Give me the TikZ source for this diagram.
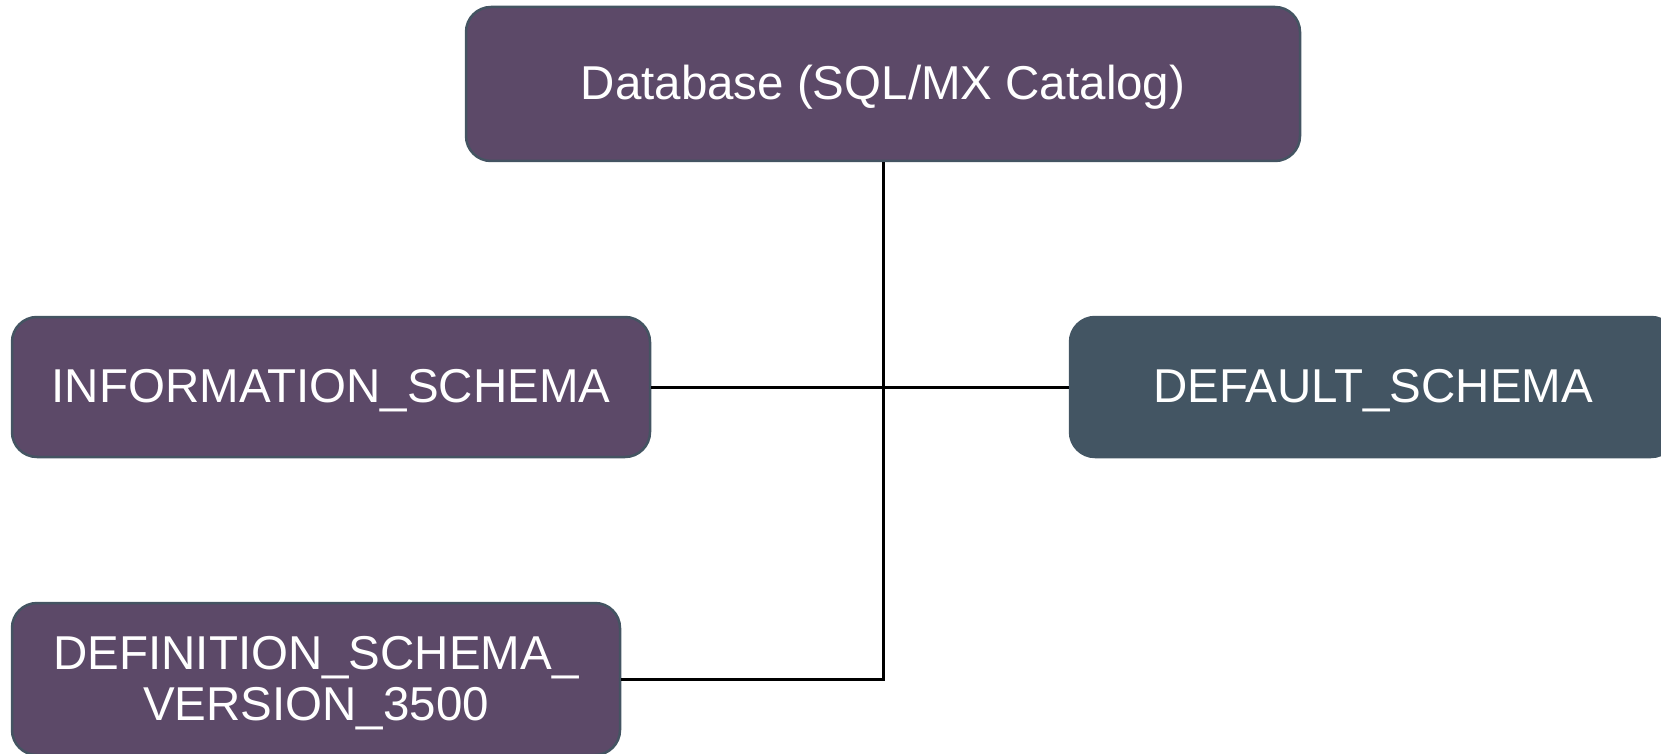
\documentclass[tikz,border=0pt]{standalone}
\usepackage{fontspec}
\setmainfont{Liberation Sans}
\definecolor{boxpurple}{RGB}{92,73,104}
\definecolor{boxslate}{RGB}{67,85,99}
\definecolor{boxborder}{RGB}{68,84,98}
\tikzset{
  schemabox/.style={rectangle, rounded corners=25pt, fill=boxpurple, draw=boxborder, line width=2.5pt,
    text=white, align=center, inner sep=0pt, font=\fontsize{47.5}{51}\selectfont},
  oneline/.style={text height=35pt, text depth=4pt},
  slatebox/.style={schemabox, fill=boxslate, draw=boxslate},
  conn/.style={draw=black, line width=3pt}
}
\begin{document}
\begin{tikzpicture}[x=1pt,y=-1pt]
\useasboundingbox (0,0) rectangle (1661,754);
\clip (0,0) rectangle (1661,754);
\node[schemabox, oneline, minimum width=834pt, minimum height=154pt] (db) at (883,84) {Database (SQL/MX Catalog)};
\node[schemabox, oneline, minimum width=638pt, minimum height=140pt] (info) at (331,387) {INFORMATION\_SCHEMA};
\node[slatebox, oneline, minimum width=606pt, minimum height=140pt] (def) at (1373,387) {DEFAULT\_SCHEMA};
\node[schemabox, minimum width=608pt, minimum height=152pt] (defn) at (316,679)
  {\raisebox{0pt}[35pt][55pt]{\begin{tabular}[t]{@{}c@{}}DEFINITION\_SCHEMA\_\\VERSION\_3500\end{tabular}}};
\coordinate (corner) at (883,679);
\draw[conn] (info.east) -- (def.west);
\draw[conn] (db.south) -- (corner) -- (defn.east);
\end{tikzpicture}
\end{document}
